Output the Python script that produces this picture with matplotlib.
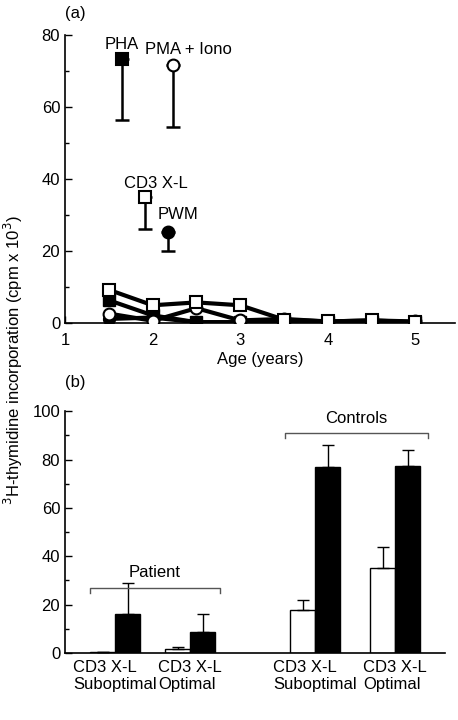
import numpy as np
import matplotlib
matplotlib.use("Agg")
import matplotlib.pyplot as plt
from matplotlib.ticker import MultipleLocator

plt.rcParams['font.family'] = ['Liberation Sans', 'DejaVu Sans']
plt.rcParams['font.size'] = 12

# panel (a): patient follow-up
ages = [1.5, 2, 2.5, 3, 3.5, 4, 4.5, 5]
pha = [6.4, 2.2, 0.3, 0.3, 0.5, 0.3, 0.4, 0.3]
pwm = [1.2, 1.6, 0.3, 0.3, 0.8, 0.3, 0.5, 0.3]
pma = [2.7, 0.7, 4.2, 0.8, 1.2, 0.5, 0.8, 0.5]
cd3 = [9.3, 5.0, 5.8, 5.0, 1.0, 0.5, 0.8, 0.3]

# control values shown beside the curves (mean, lower error)
ctrl_names = ['PHA', 'PMA + Iono', 'CD3 X-L', 'PWM']
ctrl_x = [1.65, 2.23, 1.91, 2.17]
ctrl_mean = [73.5, 71.8, 35.0, 25.3]
ctrl_low = [17.0, 17.3, 8.8, 5.2]

# panel (b)
groups = ['CD3 X-L\nSuboptimal', 'CD3 X-L\nOptimal',
          'CD3 X-L\nSuboptimal', 'CD3 X-L\nOptimal']
white_vals = [0.3, 1.8, 17.8, 35.0]
white_err = [0.0, 0.8, 4.0, 9.0]
black_vals = [16.0, 8.5, 77.0, 77.5]
black_err = [13.0, 7.5, 9.0, 6.5]
centers = [2, 5, 10, 13.2]

fig = plt.figure(figsize=(4.58, 7.2), dpi=100)
ax1 = fig.add_axes([0.142, 0.551, 0.851, 0.40])
ax2 = fig.add_axes([0.142, 0.093, 0.83, 0.336])

lw = 3
ms = 8.5
ax1.plot(ages, pwm, '-', color='k', lw=lw, marker='o', ms=ms, mfc='k', mec='k', zorder=3)
ax1.plot(ages, pha, '-', color='k', lw=lw, marker='s', ms=ms, mfc='k', mec='k', zorder=3)
ax1.plot(ages, pma, '-', color='k', lw=lw, marker='o', ms=ms, mfc='white', mec='k', mew=1.5, zorder=4)
ax1.plot(ages, cd3, '-', color='k', lw=lw, marker='s', ms=ms, mfc='white', mec='k', mew=1.5, zorder=5)

marks = [('s', 'k'), ('o', 'white'), ('s', 'white'), ('o', 'k')]
# label offsets in points: (dx from marker, dy from marker), alignment
offsets = [(0, 10, 'center'), (-20, 11, 'left'), (-15, 10, 'left'), (-7, 13, 'left')]
for i in range(4):
    ax1.errorbar(ctrl_x[i], ctrl_mean[i], yerr=[[ctrl_low[i]], [0]], fmt='none',
                 ecolor='k', elinewidth=1.8, capsize=5, capthick=1.8, zorder=2)
    ax1.plot(ctrl_x[i], ctrl_mean[i], marks[i][0], ms=ms, mfc=marks[i][1], mec='k',
             mew=1.5, zorder=3)
    dx, dy, ha = offsets[i]
    ax1.annotate(ctrl_names[i], (ctrl_x[i], ctrl_mean[i]), xytext=(dx, dy),
                 textcoords='offset points', ha=ha, va='center', fontsize=12)

ax1.set_xlim(1, 5.45)
ax1.set_ylim(0, 80)
ax1.set_xticks([1, 2, 3, 4, 5])
ax1.set_yticks([0, 20, 40, 60, 80])
ax1.yaxis.set_minor_locator(MultipleLocator(10))
ax1.tick_params(direction='in', length=5, width=1)
ax1.tick_params(which='minor', direction='in', length=3, width=1)
ax1.tick_params(axis='x', pad=7)
for s in ['top', 'right']:
    ax1.spines[s].set_visible(False)
for s in ['left', 'bottom']:
    ax1.spines[s].set_linewidth(1.2)
ax1.set_xlabel('Age (years)', labelpad=3)
ax1.text(0.0, 1.06, '(a)', transform=ax1.transAxes, fontsize=12)

# panel (b) bars
x = np.array(centers)
bw = 1.0
ax2.bar(x - bw / 2, white_vals, bw, color='white', edgecolor='k', lw=1)
ax2.bar(x + bw / 2, black_vals, bw, color='k', edgecolor='k', lw=1)
ax2.errorbar(x - bw / 2, white_vals, yerr=[[0] * 4, white_err], fmt='none',
             ecolor='k', elinewidth=1, capsize=4, capthick=1)
ax2.errorbar(x + bw / 2, black_vals, yerr=[[0] * 4, black_err], fmt='none',
             ecolor='k', elinewidth=1, capsize=4, capthick=1)

ax2.set_xlim(0, 15.2)
ax2.set_ylim(0, 100)
ax2.set_xticks(x)
ax2.set_xticklabels(groups, ha='center', multialignment='left', linespacing=1.2)
ax2.tick_params(axis='x', length=0, pad=5)
ax2.set_yticks([0, 20, 40, 60, 80, 100])
ax2.yaxis.set_minor_locator(MultipleLocator(10))
ax2.tick_params(axis='y', direction='in', length=5, width=1)
ax2.tick_params(axis='y', which='minor', direction='in', length=3, width=1)
for s in ['top', 'right']:
    ax2.spines[s].set_visible(False)
for s in ['left', 'bottom']:
    ax2.spines[s].set_linewidth(1.2)
ax2.text(0.0, 1.1, '(b)', transform=ax2.transAxes, fontsize=12)


def bracket(ax, x0, x1, y, h, label):
    ax.plot([x0, x0, x1, x1], [y - h, y, y, y - h], color='#555555', lw=1)
    ax.text((x0 + x1) / 2, y + 3, label, ha='center', va='bottom', fontsize=12)


bracket(ax2, 1.0, 6.2, 27, 2, 'Patient')
bracket(ax2, 8.8, 14.5, 91, 2, 'Controls')

fig.text(0.03, 0.5, r'$^3$H-thymidine incorporation (cpm x 10$^3$)', rotation=90,
         ha='center', va='center', fontsize=12)

fig.savefig('out.png', dpi=100)
